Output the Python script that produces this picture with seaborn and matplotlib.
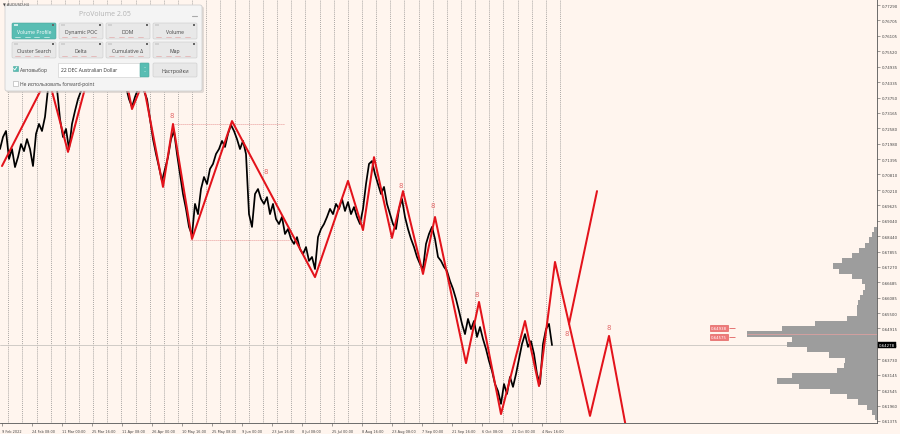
import numpy as np
import pandas as pd
import matplotlib
matplotlib.use("Agg")
import matplotlib.pyplot as plt
from matplotlib.patches import FancyBboxPatch, Rectangle
import seaborn as sns

sns.set_theme(style="white")
plt.rcParams['font.family'] = ['DejaVu Sans']

# ---------------- data ----------------
symbol = "AUDUSD,H4"
bar_step = 3  # chart position units between consecutive samples
close = [
    0.7178, 0.7224, 0.7247, 0.7140, 0.7178, 0.7109, 0.7147, 0.7197, 0.7170, 0.7216,
    0.7178, 0.7113, 0.7236, 0.7274, 0.7247, 0.7301, 0.7408, 0.7438, 0.7454, 0.7408,
    0.7293, 0.7224, 0.7255, 0.7178, 0.7274, 0.7324, 0.7369, 0.7400, 0.7415, 0.7446,
    0.7477, 0.7503, 0.7542, 0.7522, 0.7484, 0.7454, 0.7427, 0.7415, 0.7438, 0.7454,
    0.7469, 0.7484, 0.7415, 0.7369, 0.7339, 0.7377, 0.7408, 0.7423, 0.7400, 0.7369,
    0.7293, 0.7216, 0.7159, 0.7109, 0.7056, 0.7102, 0.7147, 0.7216, 0.7247, 0.7159,
    0.7082, 0.7006, 0.6949, 0.6880, 0.6849, 0.6968, 0.6929, 0.7025, 0.7071, 0.7044,
    0.7102, 0.7121, 0.7159, 0.7178, 0.7209, 0.7186, 0.7236, 0.7270, 0.7247, 0.7216,
    0.7178, 0.7209, 0.7159, 0.6929, 0.6880, 0.7006, 0.7025, 0.6987, 0.6968, 0.6994,
    0.6929, 0.6968, 0.6910, 0.6891, 0.6918, 0.6853, 0.6872, 0.6834, 0.6815, 0.6841,
    0.6795, 0.6776, 0.6803, 0.6750, 0.6765, 0.6719, 0.6841, 0.6872, 0.6891, 0.6918,
    0.6949, 0.6929, 0.6968, 0.6949, 0.6987, 0.6941, 0.6975, 0.6929, 0.6956, 0.6918,
    0.6891, 0.6949, 0.7044, 0.7121, 0.7132, 0.7082, 0.7044, 0.7006, 0.7033, 0.6968,
    0.6929, 0.6891, 0.6872, 0.6949, 0.6987, 0.6918, 0.6872, 0.6834, 0.6803, 0.6765,
    0.6738, 0.6719, 0.6815, 0.6853, 0.6880, 0.6834, 0.6765, 0.6750, 0.6727, 0.6711,
    0.6673, 0.6643, 0.6604, 0.6558, 0.6509, 0.6470, 0.6528, 0.6489, 0.6520, 0.6459,
    0.6497, 0.6451, 0.6413, 0.6367, 0.6329, 0.6279, 0.6252, 0.6203, 0.6279, 0.6241,
    0.6306, 0.6268, 0.6317, 0.6375, 0.6432, 0.6470, 0.6421, 0.6443, 0.6394, 0.6317,
    0.6279, 0.6432, 0.6489, 0.6509, 0.6428,
]

zz_x = [2, 48, 68, 95, 111, 124, 132, 143, 163, 173, 192, 232, 315, 348, 363, 374,
        392, 403, 423, 435, 466, 479, 501, 525, 539, 555, 590, 609, 630]
zz_p = [0.7113, 0.7457, 0.7167, 0.7553, 0.7408, 0.7484, 0.7331, 0.7434, 0.7033, 0.7274,
        0.6834, 0.7285, 0.6688, 0.7056, 0.6868, 0.7147, 0.6838, 0.7017, 0.6700, 0.6918,
        0.6359, 0.6593, 0.6164, 0.6520, 0.6271, 0.6746, 0.6157, 0.6463, 0.6030]
alt_x = [569, 597]
alt_p = [0.6509, 0.7017]

mark_x = [172, 266, 401, 433, 477, 567, 609]
mark_p = [0.7308, 0.7094, 0.7040, 0.6964, 0.6623, 0.6474, 0.6497]

level_p = [0.7274, 0.6830]
level_from = [173, 190]
level_to = [285, 290]

current_price = 0.64278
poc_price = 0.6472
box_labels = ["0.64938", "0.64575"]
box_prices = [0.64938, 0.64575]

price_ticks = [0.77290, 0.76705, 0.76105, 0.75520, 0.74935, 0.74335, 0.73750, 0.73165,
               0.72580, 0.71980, 0.71395, 0.70810, 0.70210, 0.69625, 0.69040, 0.68440,
               0.67855, 0.67270, 0.66685, 0.66085, 0.65500, 0.64915, 0.64315, 0.63730,
               0.63145, 0.62545, 0.61960, 0.61375]

date_labels = ["9 Feb 2022", "24 Feb 08:00", "11 Mar 00:00", "25 Mar 16:00", "11 Apr 08:00",
               "26 Apr 00:00", "10 May 16:00", "25 May 08:00", "9 Jun 00:00", "23 Jun 16:00",
               "8 Jul 08:00", "25 Jul 00:00", "8 Aug 16:00", "23 Aug 08:00", "7 Sep 00:00",
               "21 Sep 16:00", "6 Oct 08:00", "21 Oct 00:00", "4 Nov 16:00"]
date_pos = [2, 32, 62, 92, 122, 152, 182, 212, 242, 272, 302, 332, 362, 392, 422, 452,
            482, 512, 542]

profile_levels = [0.689, 0.687, 0.685, 0.683, 0.681, 0.679, 0.677, 0.675, 0.673, 0.671,
                  0.669, 0.667, 0.665, 0.663, 0.661, 0.659, 0.657, 0.655, 0.653, 0.651,
                  0.649, 0.647, 0.645, 0.643, 0.641, 0.639, 0.637, 0.635, 0.633, 0.631,
                  0.629, 0.627, 0.625, 0.623, 0.621, 0.619, 0.617, 0.615]
profile_vol = [0, 3, 5, 8, 12, 18, 25, 35, 44, 38,
               25, 15, 12, 14, 17, 19, 20, 20, 30, 62,
               95, 130, 85, 90, 70, 48, 32, 33, 40, 85,
               100, 78, 47, 30, 19, 10, 5, 2]

# ---------------- figure ----------------
BG = "#fff5ee"
W, H = 900, 435
fig = plt.figure(figsize=(W / 100, H / 100), dpi=100, facecolor=BG)
ax = fig.add_axes([0, (H - 424) / H, 877 / W, 424 / H])
ax.set_facecolor(BG)
ax.set_xlim(0, 877)
ax.set_ylim(0.61298, 0.7752)

# weekly separators
sep_x = 8.3 + 14.146 * np.arange(40)
ax.vlines(sep_x, 0.61298, 0.7752, colors="#7a7a7a", linestyles=(0, (1.2, 1.6)), lw=0.5, zorder=1)

# current price line
ax.axhline(current_price, color="#c9c4c0", lw=0.6, zorder=1)

# volume profile (twin axis, growing leftwards from right edge)
ax2 = ax.twiny()
ax2.set_xlim(877, 0)
ax2.barh(profile_levels, profile_vol, height=0.00205, left=0, color="#9d9d9d", lw=0, zorder=1)
ax2.set_xticks([])
for s in ax2.spines.values():
    s.set_visible(False)
ax2.hlines(poc_price, 0, 130, colors="#e7a0a0", lw=0.5)

# price line
df = pd.DataFrame({"pos": np.arange(len(close)) * bar_step, "price": close})
sns.lineplot(data=df, x="pos", y="price", ax=ax, color="black", lw=1.25,
             estimator=None, sort=False, zorder=3)

# zigzag
zz = pd.DataFrame({"pos": zz_x, "price": zz_p})
sns.lineplot(data=zz, x="pos", y="price", ax=ax, color="#e3131b", lw=1.45,
             estimator=None, sort=False, zorder=4)
alt = pd.DataFrame({"pos": alt_x, "price": alt_p})
sns.lineplot(data=alt, x="pos", y="price", ax=ax, color="#e3131b", lw=1.45,
             estimator=None, sort=False, zorder=4)

for x, p in zip(mark_x, mark_p):
    ax.text(x, p, "8", color="#e36a6a", fontsize=5, ha="center", va="center", zorder=5)

for p, a, b in zip(level_p, level_from, level_to):
    ax.hlines(p, a, b, colors="#e07a7a", linestyles=(0, (1, 1.4)), lw=0.6, zorder=2)

for lab, p in zip(box_labels, box_prices):
    ax.hlines(p, 729, 735, colors="#e06060", lw=0.6, zorder=5)
    ax.text(719, p, lab, fontsize=2.8, color="white", ha="center", va="center", zorder=6,
            bbox=dict(boxstyle="square,pad=0.25", fc="#ee7a7a", ec="#dd4d4d", lw=0.4))

# axes styling
ax.set_xlabel("")
ax.set_ylabel("")
for side in ["top", "left"]:
    ax.spines[side].set_visible(False)
for side in ["bottom", "right"]:
    ax.spines[side].set_color("#555555")
    ax.spines[side].set_linewidth(0.6)
ax.yaxis.tick_right()
ax.set_yticks(price_ticks)
ax.set_yticklabels([f"{v:.5f}" for v in price_ticks])
ax.tick_params(axis="y", right=True, length=2, width=0.4, pad=1.2, labelsize=2.8,
               labelcolor="#444444", color="#555555")
ax.set_xticks(date_pos)
ax.set_xticklabels(date_labels, ha="left")
ax.tick_params(axis="x", bottom=True, length=2.5, width=0.4, pad=1.5, labelsize=2.5,
               labelcolor="#444444", color="#555555")

ax.annotate(f"{current_price:.5f}", xy=(1.0, current_price), xycoords=("axes fraction", "data"),
            xytext=(1.3, 0), textcoords="offset points", fontsize=2.8, color="white",
            ha="left", va="center", annotation_clip=False, zorder=10,
            bbox=dict(boxstyle="square,pad=0.3", fc="black", ec="black", lw=0.3))

# ---------------- overlay: symbol + ProVolume panel ----------------
ov = fig.add_axes([0, 0, 1, 1], zorder=10)
ov.set_xlim(0, W)
ov.set_ylim(H, 0)
ov.axis("off")
ov.patch.set_alpha(0)

ov.text(3, 4.5, "▼ " + symbol, fontsize=2.6, color="#444444", ha="left", va="center")

PF = ["Open Sans", "DejaVu Sans"]


def rbox(x0, y0, x1, y1, fc, ec="none", r=1.2, lw=0.5, z=1, alpha=1.0):
    ov.add_patch(FancyBboxPatch((x0, y0), x1 - x0, y1 - y0,
                                boxstyle=f"round,pad=0,rounding_size={r}",
                                fc=fc, ec=ec, lw=lw, zorder=z, alpha=alpha))


rbox(6.5, 7.5, 204, 94, "#cfc9c5", r=2, z=1, alpha=0.6)
rbox(5, 6, 202, 92, "#f4f4f4", "#c9c9c9", r=2, z=2)
ov.text(105, 15, "ProVolume 2.05", fontsize=5, color="#b3b3b3", ha="center", va="center",
        family=PF, zorder=3)
ov.plot([192, 197], [17, 17], color="#aaaaaa", lw=0.8, zorder=3)

buttons = [("Volume Profile", 12, 56, 24, 40), ("Dynamic POC", 59, 103, 24, 40),
           ("DOM", 106, 150, 24, 40), ("Volume", 153, 197, 24, 40),
           ("Cluster Search", 12, 56, 43, 59), ("Delta", 59, 103, 43, 59),
           ("Cumulative Δ", 106, 150, 43, 59), ("Map", 153, 197, 43, 59)]
for i, (lab, x0, x1, y0, y1) in enumerate(buttons):
    teal = i == 0
    rbox(x0, y0, x1, y1, "#58bdb3" if teal else "#e8e8e8", "#4aa79d" if teal else "#cbcbcb",
         r=1.2, lw=0.4, z=3)
    ov.text((x0 + x1) / 2, (y0 + y1) / 2 + 0.3, lab, fontsize=3.7,
            color="white" if teal else "#444444", ha="center", va="center", family=PF, zorder=4)
    ov.add_patch(Rectangle((x0 + 1.5, y0 + 1.2), 4, 2, fc="#ffffff" if teal else "#c8c8c8",
                           ec="none", zorder=4, alpha=0.7))
    ov.add_patch(Rectangle((x1 - 4, y0 + 1.2), 2, 2, fc="#666666", ec="none", zorder=4))
    dash_c = "#ffffff" if teal else "#e08080"
    for k in range(4):
        xa = x0 + 3 + k * (x1 - x0 - 6) / 4
        ov.plot([xa, xa + 5], [y1 - 2, y1 - 2], color=dash_c, lw=0.5, zorder=4,
                alpha=0.8 if teal else 0.6)

# row 3
ov.add_patch(Rectangle((12.5, 67), 5, 5, fc="#58bdb3", ec="#4aa79d", lw=0.4, zorder=3))
ov.plot([13.5, 14.8, 16.8], [69.5, 71, 68], color="white", lw=0.6, zorder=4)
ov.text(20, 70, "Автовыбор", fontsize=3.6, color="#444444", ha="left", va="center",
        family=PF, zorder=4)
ov.add_patch(Rectangle((58, 64), 82, 14, fc="white", ec="#cccccc", lw=0.4, zorder=3))
ov.text(61, 71, "22 DEC Australian Dollar", fontsize=3.6, color="#333333", ha="left",
        va="center", family=PF, zorder=4)
rbox(140, 64, 149, 78, "#58bdb3", "#4aa79d", r=0.8, lw=0.4, z=3)
ov.text(144.5, 68.5, "˄", fontsize=3, color="white", ha="center", va="center", zorder=4)
ov.text(144.5, 73.5, "˅", fontsize=3, color="white", ha="center", va="center", zorder=4)
rbox(153, 64, 197, 78, "#e8e8e8", "#cbcbcb", r=1.2, lw=0.4, z=3)
ov.text(175, 71, "Настройки", fontsize=3.8, color="#444444", ha="center", va="center",
        family=PF, zorder=4)

# row 4
ov.add_patch(Rectangle((12.5, 82), 5, 5, fc="white", ec="#aaaaaa", lw=0.4, zorder=3))
ov.text(20, 84.6, "Не использовать forward-point", fontsize=3.6, color="#444444",
        ha="left", va="center", family=PF, zorder=4)

fig.savefig("out.png", dpi=100, facecolor=BG)
